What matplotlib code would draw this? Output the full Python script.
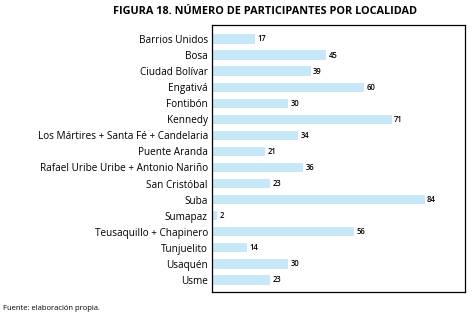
import numpy as np
import matplotlib
matplotlib.use("Agg")
from matplotlib import pyplot as plt

plt.rcParams['font.family'] = ['Open Sans', 'DejaVu Sans']

localidades = ["Barrios Unidos", "Bosa", "Ciudad Bolívar", "Engativá", "Fontibón",
               "Kennedy", "Los Mártires + Santa Fé + Candelaria", "Puente Aranda",
               "Rafael Uribe Uribe + Antonio Nariño", "San Cristóbal", "Suba",
               "Sumapaz", "Teusaquillo + Chapinero", "Tunjuelito", "Usaquén", "Usme"]
participantes = [17, 45, 39, 60, 30, 71, 34, 21, 36, 23, 84, 2, 56, 14, 30, 23]

fig = plt.figure(figsize=(4.75, 3.23), dpi=100)
ax = fig.add_axes([212/475, 1-292/323, 253/475, 267/323])

y = np.arange(len(localidades))
ax.barh(y, participantes, height=0.58, color="#c7e8f9")
for yi, v in zip(y, participantes):
    ax.text(v + 1, yi, str(v), va="center", ha="left", fontsize=5.5, fontweight="semibold")

ax.set_xlim(0, 100)
ax.set_ylim(15.75, -0.87)
ax.set_yticks(y)
ax.set_yticklabels(localidades, fontsize=7.2)
ax.set_xticks([])
ax.tick_params(axis="y", length=0, pad=3)
for s in ax.spines.values():
    s.set_linewidth(0.9)

fig.text(265/475, 1-12/323, "FIGURA 18. NÚMERO DE PARTICIPANTES POR LOCALIDAD",
         ha="center", va="center", fontsize=7.8, fontweight="bold")
fig.text(3/475, 1-309/323, "Fuente: elaboración propia.", ha="left", va="center", fontsize=5.5)

fig.savefig("out.png", dpi=100)
